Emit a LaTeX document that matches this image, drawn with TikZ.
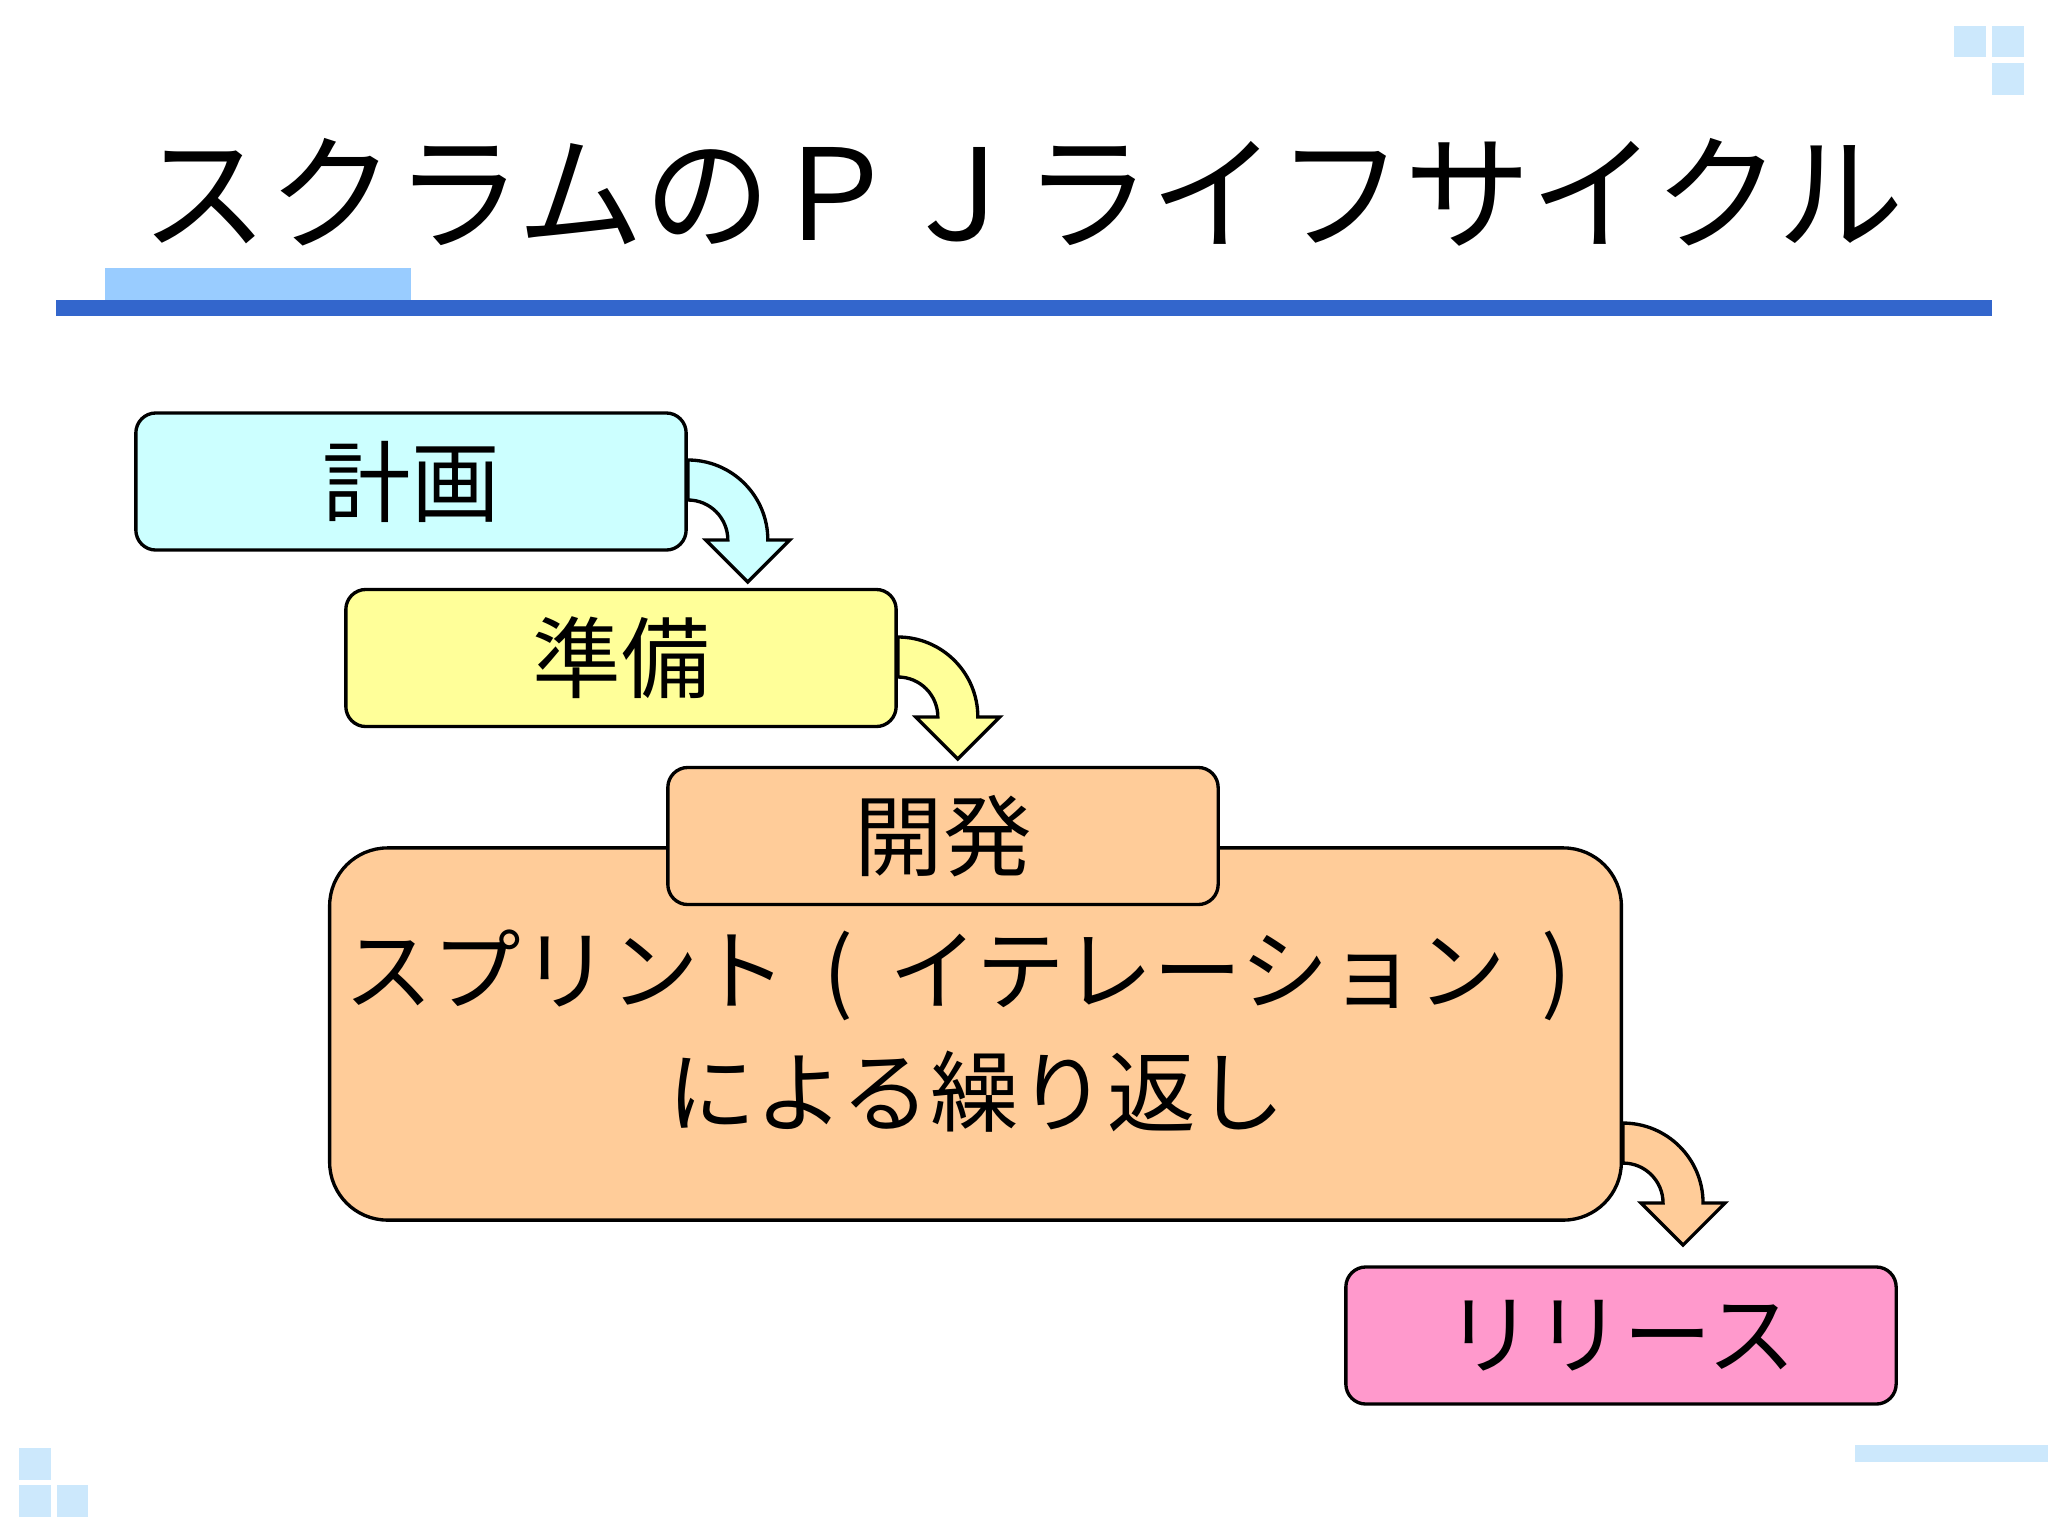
\documentclass[tikz,border=0pt]{standalone}
\usepackage{fontspec}
\setmainfont{Noto Sans CJK JP}

\definecolor{planfill}{HTML}{CCFFFF}
\definecolor{prepfill}{HTML}{FFFF99}
\definecolor{devfill}{HTML}{FFCC99}
\definecolor{relfill}{HTML}{FF99CC}
\definecolor{tilecol}{HTML}{CCE8FC}
\definecolor{lightbar}{HTML}{99CCFF}
\definecolor{darkbar}{HTML}{3366CC}

\begin{document}
\begin{tikzpicture}[
    x=0.01cm, y=-0.01cm,
    % Define the style for the boxes
    block/.style={
        rectangle,
        draw,
        line width=0.95pt,
        rounded corners=0.2cm,
        minimum width=5.5cm,
        minimum height=1.37cm,
        inner sep=0pt,
        font=\fontsize{25.2}{34.7}\selectfont
    },
    % Define the style for the bent arrows
    turn/.style={
        draw,
        line width=0.95pt,
        line join=miter
    },
    % Define the style for the corner tiles
    tile/.style={
        fill=tilecol
    }
]

    % Page and margins
    \fill[white] (0,0) rectangle (2048,1536);
    \useasboundingbox (0,0) rectangle (2048,1536);

    % Corner tiles
    \fill[tile] (1954,26) rectangle (1986,57);
    \fill[tile] (1992,26) rectangle (2024,57);
    \fill[tile] (1992,63) rectangle (2024,95);
    \fill[tile] (19,1448) rectangle (51,1480);
    \fill[tile] (19,1485) rectangle (51,1517);
    \fill[tile] (57,1485) rectangle (88,1517);
    \fill[tile] (1855,1445) rectangle (2048,1462);

    % Title and its bars
    \fill[lightbar] (105,268) rectangle (411,300);
    \fill[darkbar] (56,300) rectangle (1992,316);
    \node[font=\fontsize{36}{40}\selectfont] (title) at (1023,192) {スクラムのＰＪライフサイクル};

    % Place the nodes (boxes)
    \node [block, fill=planfill] (plan) at (411,481.5) {計画};
    \node [block, fill=prepfill] (prep) at (621,658) {準備};
    \node [block, fill=devfill, minimum width=12.91cm, minimum height=3.72cm,
        rounded corners=0.58cm] (sprint) at (975.5,1034) {};
    \node [block, draw=none, align=center] (sprinttext) at (976,1031)
        {スプリント\makebox[1.15em]{(}イテレーション\makebox[1.15em]{)}\\による繰り返し};
    \node [block, fill=devfill] (dev) at (943,836) {開発};
    \node [block, fill=relfill] (release) at (1621,1335.5) {リリース};

    % Draw the bent arrows
    \path [turn, fill=planfill] ([yshift=0.215cm]plan.east) arc (-90:0:80) -- ++(22,0) -- ++(-42,42)
        -- ++(-42,-42) -- ++(22,0) arc (0:-90:40) -- cycle;
    \path [turn, fill=prepfill] ([yshift=0.21cm]prep.east) arc (-90:0:80) -- ++(22,0) -- ++(-42,42)
        -- ++(-42,-42) -- ++(22,0) arc (0:-90:40) -- cycle;
    \path [turn, fill=devfill] ([yshift=-0.89cm]sprint.east) arc (-90:0:80) -- ++(22,0) -- ++(-42,42)
        -- ++(-42,-42) -- ++(22,0) arc (0:-90:40) -- cycle;

\end{tikzpicture}
\end{document}
